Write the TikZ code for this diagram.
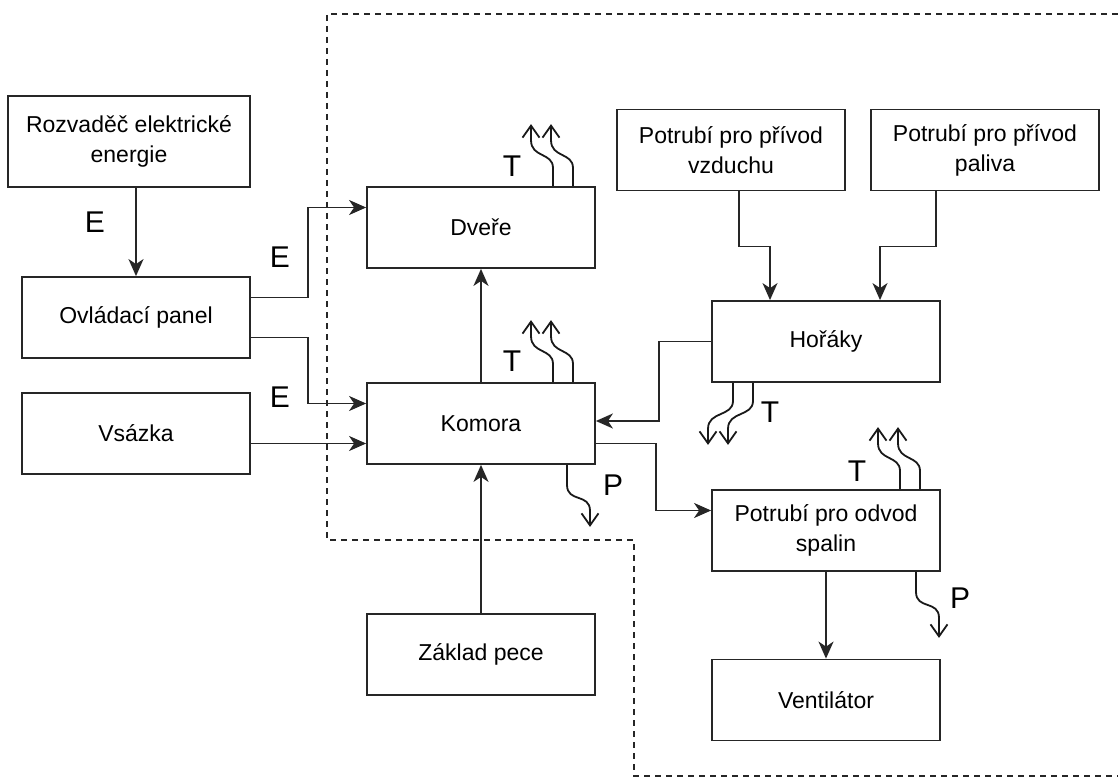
\documentclass[tikz,border=0pt]{standalone}
\usepackage{fontspec}
\setmainfont{Liberation Sans}
\usetikzlibrary{arrows.meta,calc}
\begin{document}
\begin{tikzpicture}[x=1pt,y=-1pt,
  box/.style={draw=black!85,line width=1.8pt,rectangle,minimum width=228pt,minimum height=81pt,
    align=center,font=\fontsize{23}{30}\selectfont,inner sep=2pt},
  arr/.style={draw=black!85,line width=1.8pt,-{Stealth[length=17pt,width=15pt,inset=5pt]}},
  wav/.style={draw=black!90,line width=1.8pt,-{Straight Barb[length=12pt,width=17pt,line width=1.8pt]}},
  lab/.style={font=\fontsize{30}{32}\selectfont,inner sep=0pt},
  bnd/.style={draw=black!85,line width=1.9pt,dash pattern=on 6pt off 5pt},
  pics/heatup/.style={code={\draw[wav] (0,0) -- (0,-18) .. controls (0,-34) and (-22,-28) .. (-22,-46) -- (-22,-62);}},
  pics/heatdown/.style={code={\draw[wav] (0,0) -- (0,18) .. controls (0,34) and (-25,28) .. (-25,46) -- (-25,62);}},
  pics/pdown/.style={code={\draw[wav] (0,0) -- (0,20) .. controls (0,38) and (23,28) .. (23,46) -- (23,#1);}},
  pics/pdown/.default=62
]
\useasboundingbox (0,0) rectangle (1118,778);
% boundary
\draw[bnd] (1118,14) -- (327,14) -- (327,540) -- (634,540) -- (634,776) -- (1118,776);
% boxes
\node[box,minimum width=242pt,minimum height=91pt] (roz) at (129,141.5) {Rozvaděč elektrické\\energie};
\node[box] (ovl) at (136,317.5) {Ovládací panel};
\node[box] (vsa) at (136,433.5) {Vsázka};
\node[box] (dve) at (481,227.5) {Dveře};
\node[box] (kom) at (481,423.5) {Komora};
\node[box] (zak) at (481,654.5) {Základ pece};
\node[box] (vzd) at (731,150) {Potrubí pro přívod\\vzduchu};
\node[box] (pal) at (985,150) {Potrubí pro přívod\\paliva};
\node[box] (hor) at (826,341.5) {Hořáky};
\node[box] (spa) at (826,530.5) {Potrubí pro odvod\\spalin};
\node[box] (ven) at (826,700) {Ventilátor};
% connectors
\draw[arr] (ovl.north |- roz.south) -- (ovl.north);
\draw[arr] ([yshift=20pt]ovl.east) -- ++(57,0) |- ([yshift=20pt]dve.west);
\draw[arr] ([yshift=-20pt]ovl.east) -- ++(57,0) |- ([yshift=20pt]kom.west);
\draw[arr] ([yshift=-10pt]vsa.east) -- ([yshift=-10pt]vsa.east -| kom.west);
\draw[arr] (kom.north) -- (dve.south);
\draw[arr] (zak.north) -- (kom.south);
\draw[arr] (hor.west) -- ++(-52,0) |- ([yshift=2.5pt]kom.east);
\draw[arr] ([yshift=-20pt]kom.east) -- ++(60,0) |- ([yshift=20pt]spa.west);
\draw[arr] ([xshift=8pt]vzd.south) -- ++(0,55) -| ([xshift=-56pt]hor.north);
\draw[arr] ([xshift=-49pt]pal.south) -- ++(0,55) -| ([xshift=54pt]hor.north);
\draw[arr] (spa.south) -- (ven.north);
% heat / loss arrows
\pic at ([xshift=72pt]dve.north) {heatup};
\pic at ([xshift=92pt]dve.north) {heatup};
\pic at ([xshift=72pt]kom.north) {heatup};
\pic at ([xshift=92pt]kom.north) {heatup};
\pic at ([xshift=-93pt]hor.south) {heatdown};
\pic at ([xshift=-73pt]hor.south) {heatdown};
\pic at ([xshift=74pt]spa.north) {heatup};
\pic at ([xshift=94pt]spa.north) {heatup};
\pic at ([xshift=86pt]kom.south) {pdown};
\pic at ([xshift=90pt]spa.south) {pdown=66};
% labels
\node[lab] (e1) at (95,222) {E};
\node[lab] (e2) at (280,257) {E};
\node[lab] (e3) at (280,397) {E};
\node[lab] (t1) at (512,166) {T};
\node[lab] (t2) at (512,361) {T};
\node[lab] (t3) at (770,412) {T};
\node[lab] (t4) at (857,471) {T};
\node[lab] (p1) at (613,485) {P};
\node[lab] (p2) at (960,598) {P};
\end{tikzpicture}
\end{document}
